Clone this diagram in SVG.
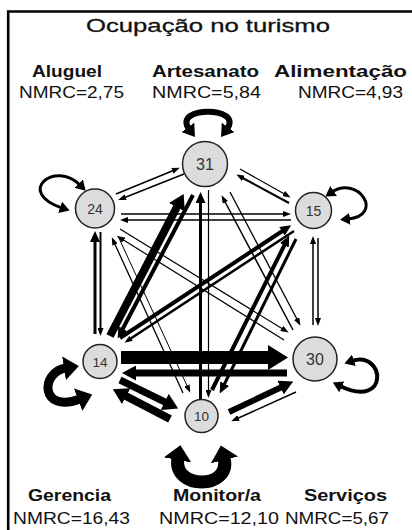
<svg xmlns="http://www.w3.org/2000/svg" width="412" height="530" viewBox="0 0 412 530">
<style>
.e{stroke:#000;fill:none;stroke-linecap:butt}
.n circle{fill:#dcdcdc;stroke:#222;stroke-width:1.5}
.num{font-family:"Liberation Sans",Arial,sans-serif;fill:#333;text-anchor:middle}
.lb{font-family:"Liberation Sans",Arial,sans-serif;font-weight:bold;font-size:16px;fill:#111}
.nm{font-family:"Liberation Sans",Arial,sans-serif;font-size:17px;fill:#111}
.tt{font-family:"Liberation Sans",Arial,sans-serif;font-size:19px;fill:#111;stroke:#111;stroke-width:0.3}
.ah{fill:#000}
</style>
<defs>
<marker id="as" markerUnits="userSpaceOnUse" viewBox="0 0 8 6" markerWidth="8" markerHeight="6" refX="5" refY="3" orient="auto"><path class="ah" d="M0,0L8,3L0,6z"/></marker>
<marker id="am" markerUnits="userSpaceOnUse" viewBox="0 0 11 10" markerWidth="11" markerHeight="10" refX="6" refY="5" orient="auto"><path class="ah" d="M0,0L11,5L0,10z"/></marker>
<marker id="al" markerUnits="userSpaceOnUse" viewBox="0 0 15 18" markerWidth="15" markerHeight="18" refX="7" refY="9" orient="auto"><path class="ah" d="M0,0L15,9L0,18z"/></marker>
<marker id="al2" markerUnits="userSpaceOnUse" viewBox="0 0 14 15" markerWidth="14" markerHeight="15" refX="6" refY="7.5" orient="auto"><path class="ah" d="M0,0L14,7.5L0,15z"/></marker>
<marker id="ax" markerUnits="userSpaceOnUse" viewBox="0 0 20 25" markerWidth="20" markerHeight="25" refX="8" refY="12.5" orient="auto"><path class="ah" d="M0,0L20,12.5L0,25z"/></marker>
<marker id="ls" markerUnits="userSpaceOnUse" viewBox="0 0 10 12" markerWidth="10" markerHeight="12" refX="2" refY="6" orient="auto-start-reverse"><path class="ah" d="M0,0L10,6L0,12z"/></marker>
<marker id="lm" markerUnits="userSpaceOnUse" viewBox="0 0 12 16" markerWidth="12" markerHeight="16" refX="2" refY="8" orient="auto-start-reverse"><path class="ah" d="M0,0L12,8L0,16z"/></marker>
<marker id="ll" markerUnits="userSpaceOnUse" viewBox="0 0 15 24" markerWidth="15" markerHeight="24" refX="2" refY="12" orient="auto-start-reverse"><path class="ah" d="M0,0L15,12L0,24z"/></marker>
<marker id="lx" markerUnits="userSpaceOnUse" viewBox="0 0 15 28" markerWidth="15" markerHeight="28" refX="2" refY="14" orient="auto-start-reverse"><path class="ah" d="M0,0L15,14L0,28z"/></marker>
</defs>
<rect width="412" height="530" fill="#fff"/>
<path d="M8.2,530V11.5H412" fill="none" stroke="#000" stroke-width="2.6"/>
<text class="tt" x="86" y="31.5" textLength="244" lengthAdjust="spacingAndGlyphs">Ocupação no turismo</text>

<g id="connectors">
<!-- 24 <-> 31 -->
<line class="e" x1="116" y1="194" x2="177" y2="169" stroke-width="1.5" marker-end="url(#as)"/>
<line class="e" x1="184" y1="174" x2="121" y2="199" stroke-width="1.5" marker-end="url(#as)"/>
<!-- 31 <-> 15 -->
<line class="e" x1="240" y1="169" x2="288" y2="196" stroke-width="1.3" marker-end="url(#as)"/>
<line class="e" x1="289" y1="203" x2="239" y2="176" stroke-width="2" marker-end="url(#as)"/>
<!-- 24 <-> 15 -->
<line class="e" x1="121" y1="214" x2="288" y2="214" stroke-width="1.3" marker-end="url(#as)"/>
<line class="e" x1="291" y1="220" x2="123" y2="220" stroke-width="1.5" marker-end="url(#as)"/>
<!-- 24 <-> 14 -->
<line class="e" x1="95" y1="334" x2="95" y2="236" stroke-width="3" marker-end="url(#am)"/>
<line class="e" x1="100.5" y1="232" x2="100.5" y2="333" stroke-width="2" marker-end="url(#as)"/>
<!-- 14 <-> 31 -->
<line class="e" x1="110" y1="336" x2="180" y2="201" stroke-width="8" marker-end="url(#al)"/>
<line class="e" x1="193" y1="195" x2="120" y2="334" stroke-width="4" marker-end="url(#am)"/>
<!-- 14 <-> 15 -->
<line class="e" x1="120" y1="338" x2="287" y2="228" stroke-width="4" marker-end="url(#am)"/>
<line class="e" x1="294" y1="231" x2="127" y2="341" stroke-width="2.5" marker-end="url(#as)"/>
<!-- 10 <-> 31 -->
<line class="e" x1="200.5" y1="399" x2="200.5" y2="197" stroke-width="3" marker-end="url(#am)"/>
<line class="e" x1="208.5" y1="190" x2="208.5" y2="395" stroke-width="1.2" marker-end="url(#as)"/>
<!-- 31 <-> 30 -->
<line class="e" x1="230" y1="192" x2="299" y2="323" stroke-width="1.3" marker-end="url(#as)"/>
<line class="e" x1="293" y1="330" x2="223" y2="198" stroke-width="1.5" marker-end="url(#as)"/>
<!-- 24 <-> 30 -->
<line class="e" x1="120" y1="229" x2="286" y2="331" stroke-width="1.2" marker-end="url(#as)"/>
<line class="e" x1="284" y1="340" x2="119.5" y2="237.5" stroke-width="1.2" marker-end="url(#as)"/>
<!-- 24 <-> 10 -->
<line class="e" x1="183" y1="393" x2="113" y2="240" stroke-width="1.3" marker-end="url(#as)"/>
<line class="e" x1="118" y1="236" x2="189" y2="390" stroke-width="1" stroke="#888" marker-end="url(#as)"/>
<!-- 15 <-> 10 -->
<line class="e" x1="296" y1="239" x2="222" y2="389" stroke-width="3" marker-end="url(#am)"/>
<line class="e" x1="212" y1="390" x2="287" y2="240" stroke-width="4" marker-end="url(#am)"/>
<!-- 15 <-> 30 -->
<line class="e" x1="318" y1="238" x2="318" y2="323" stroke-width="1.5" marker-end="url(#as)"/>
<line class="e" x1="313" y1="325" x2="313" y2="239" stroke-width="1.5" marker-end="url(#as)"/>
<!-- 14 <-> 30 -->
<line class="e" x1="121" y1="357.5" x2="276" y2="357.5" stroke-width="13" marker-end="url(#ax)"/>
<line class="e" x1="287" y1="373" x2="130" y2="373" stroke-width="7" marker-end="url(#al2)"/>
<!-- 14 <-> 10 -->
<line class="e" x1="120" y1="380" x2="171" y2="405" stroke-width="7" marker-end="url(#al)"/>
<line class="e" x1="170" y1="419" x2="120" y2="393" stroke-width="8" marker-end="url(#al)"/>
<!-- 10 <-> 30 -->
<line class="e" x1="229" y1="412" x2="286" y2="385" stroke-width="6" marker-end="url(#al2)"/>
<line class="e" x1="296" y1="392" x2="234" y2="420" stroke-width="1.5" marker-end="url(#as)"/>
<!-- self loops -->
<path class="e" d="M189,129C172,106 244,106 227,129" stroke-width="6" marker-start="url(#lm)" marker-end="url(#lm)"/>
<path class="e" d="M80,185C55,160 15,192 62,208" stroke-width="3" marker-start="url(#ls)" marker-end="url(#ls)"/>
<path class="e" d="M332,192C358,175 385,215 348,219" stroke-width="3" marker-start="url(#ls)" marker-end="url(#ls)"/>
<path class="e" d="M352,361C385,350 390,410 340,386" stroke-width="4" marker-start="url(#ls)" marker-end="url(#ls)"/>
<path class="e" d="M66,368C40,372 40,414 80,399" stroke-width="9" marker-start="url(#ll)" marker-end="url(#ll)"/>
<path class="e" d="M178,458C172,490 232,490 224,458" stroke-width="13" marker-start="url(#lx)" marker-end="url(#lx)"/>
</g>

<g id="n31" class="n">
<circle cx="205" cy="164" r="22.5"/>
<text class="num" x="205" y="169.5" font-size="16">31</text>
<text class="lb" x="152" y="77" textLength="107" lengthAdjust="spacingAndGlyphs">Artesanato</text>
<text class="nm" x="152" y="98" textLength="109" lengthAdjust="spacingAndGlyphs">NMRC=5,84</text>
</g>
<g id="n24" class="n">
<circle cx="95" cy="208.5" r="19.5"/>
<text class="num" x="95" y="213.5" font-size="14">24</text>
<text class="lb" x="32" y="77" textLength="70" lengthAdjust="spacingAndGlyphs">Aluguel</text>
<text class="nm" x="19" y="98" textLength="105" lengthAdjust="spacingAndGlyphs">NMRC=2,75</text>
</g>
<g id="n15" class="n">
<circle cx="313.5" cy="210.5" r="18"/>
<text class="num" x="313.5" y="215.5" font-size="14">15</text>
<text class="lb" x="274" y="77" textLength="133" lengthAdjust="spacingAndGlyphs">Alimentação</text>
<text class="nm" x="298" y="98" textLength="105" lengthAdjust="spacingAndGlyphs">NMRC=4,93</text>
</g>
<g id="n14" class="n">
<circle cx="100" cy="361.5" r="17"/>
<text class="num" x="100" y="366.5" font-size="13.5">14</text>
<text class="lb" x="28" y="501" textLength="83" lengthAdjust="spacingAndGlyphs">Gerencia</text>
<text class="nm" x="13" y="524" textLength="117" lengthAdjust="spacingAndGlyphs">NMRC=16,43</text>
</g>
<g id="n30" class="n">
<circle cx="315" cy="359" r="22"/>
<text class="num" x="315" y="364.5" font-size="16">30</text>
<text class="lb" x="304" y="501" textLength="83" lengthAdjust="spacingAndGlyphs">Serviços</text>
<text class="nm" x="285" y="524" textLength="104" lengthAdjust="spacingAndGlyphs">NMRC=5,67</text>
</g>
<g id="n10" class="n">
<circle cx="201.5" cy="416" r="16.5"/>
<text class="num" x="201.5" y="421" font-size="13.5">10</text>
<text class="lb" x="173" y="501" textLength="88" lengthAdjust="spacingAndGlyphs">Monitor/a</text>
<text class="nm" x="159" y="524" textLength="120" lengthAdjust="spacingAndGlyphs">NMRC=12,10</text>
</g>
</svg>
